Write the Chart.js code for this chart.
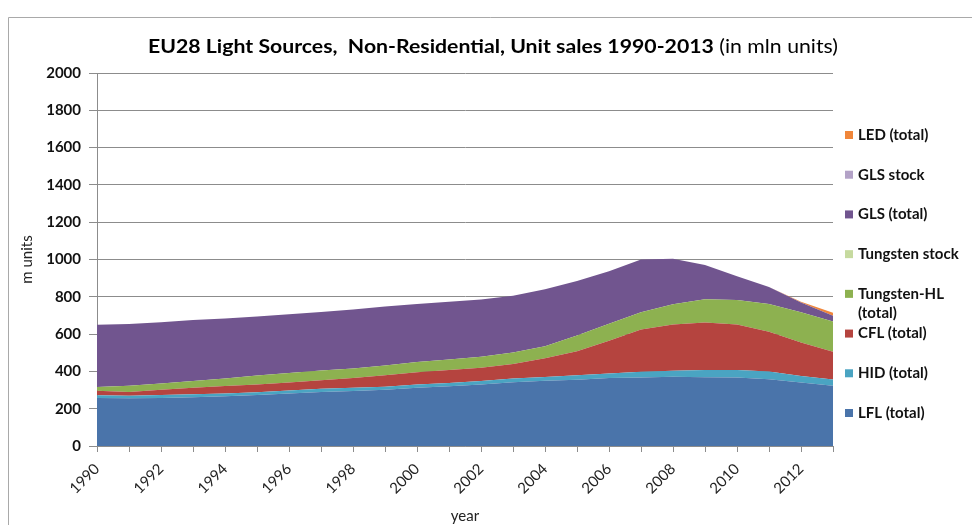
<!DOCTYPE html>
<html>
<head>
<meta charset="utf-8">
<title>EU28 Light Sources, Non-Residential</title>
<script src="https://cdn.jsdelivr.net/npm/chart.js@4.4.1/dist/chart.umd.min.js"></script>
<style>
  body { margin: 0; background: #fff; }
  #box { width: 972px; height: 525px; }
</style>
</head>
<body>
<div id="box"><canvas id="salesChart" width="972" height="525"></canvas></div>
<script>
const years = ['1990', '1991', '1992', '1993', '1994', '1995', '1996', '1997', '1998', '1999', '2000', '2001',
               '2002', '2003', '2004', '2005', '2006', '2007', '2008', '2009', '2010', '2011', '2012', '2013'];

// unit sales per year, mln units
const lfl        = [258, 256, 258, 262, 267, 274, 282, 290, 295, 302, 312, 320, 330, 342, 350, 355, 364, 367, 371, 369, 367, 358, 340, 323];
const hid        = [14, 14, 16, 16, 15, 14, 15, 17, 17, 16, 18, 18, 18, 20, 20, 25, 25, 31, 32, 38, 40, 42, 36, 33];
const cfl        = [24, 20, 28, 34, 40, 42, 43, 45, 53, 62, 65, 70, 72, 78, 100, 128, 176, 227, 249, 255, 245, 212, 179, 149];
const tungstenHL = [21, 33, 33, 36, 40, 48, 52, 53, 50, 52, 55, 56, 58, 62, 65, 84, 90, 92, 108, 125, 131, 150, 162, 163];
const tungstenStock = [0, 0, 0, 0, 0, 0, 0, 0, 0, 0, 0, 0, 0, 0, 0, 0, 0, 0, 0, 0, 0, 0, 0, 0];
const gls        = [333, 331, 329, 327, 322, 317, 314, 313, 317, 316, 312, 310, 308, 304, 305, 293, 282, 283, 244, 183, 127, 90, 53, 31];
const glsStock   = [0, 0, 0, 0, 0, 0, 0, 0, 0, 0, 0, 0, 0, 0, 0, 0, 0, 0, 0, 0, 0, 0, 0, 0];
const led        = [0, 0, 0, 0, 0, 0, 0, 0, 0, 0, 0, 0, 0, 0, 0, 0, 0, 0, 0, 0, 0, 0, 4, 15];

const yTicks = [0, 200, 400, 600, 800, 1000, 1200, 1400, 1600, 1800, 2000];

const FONT = 'Lato, "Open Sans", sans-serif';

const series = [
    { label: 'LFL (total)',         data: lfl,           color: '#4a74aa' },
    { label: 'HID (total)',         data: hid,           color: '#4aa4c2' },
    { label: 'CFL (total)',         data: cfl,           color: '#b5443f' },
    { label: 'Tungsten-HL (total)', data: tungstenHL,    color: '#8db150' },
    { label: 'Tungsten stock',      data: tungstenStock, color: '#c6da9f' },
    { label: 'GLS (total)',         data: gls,           color: '#71558f' },
    { label: 'GLS stock',           data: glsStock,      color: '#b3a2c7' },
    { label: 'LED (total)',         data: led,           color: '#f0863a' }
];

// frame + two-weight title
const framePlugin = {
    id: 'frame',
    beforeDraw(chart) {
        const ctx = chart.ctx;
        ctx.save();
        ctx.fillStyle = '#fff';
        ctx.fillRect(0, 0, chart.width, chart.height);
        ctx.strokeStyle = '#a9a9a9';
        ctx.lineWidth = 1;
        ctx.beginPath();
        ctx.moveTo(8.5, chart.height + 2);
        ctx.lineTo(8.5, 17.5);
        ctx.lineTo(chart.width + 2, 17.5);
        ctx.stroke();
        ctx.restore();
    },
    afterDraw(chart) {
        const ctx = chart.ctx;
        const boldPart = 'EU28 Light Sources,  Non-Residential, Unit sales 1990-2013';
        const plainPart = ' (in mln units)';
        ctx.save();
        ctx.font = 'bold 19px ' + FONT;
        const wb = ctx.measureText(boldPart).width;
        ctx.font = '19px ' + FONT;
        const wp = ctx.measureText(plainPart).width;
        const sx = 690 / (wb + wp);
        ctx.translate(148, 47);
        ctx.scale(sx, 1);
        ctx.fillStyle = '#000';
        ctx.textBaseline = 'middle';
        ctx.font = 'bold 19px ' + FONT;
        ctx.fillText(boldPart, 0, 0);
        ctx.font = '19px ' + FONT;
        ctx.fillText(plainPart, wb, 0);
        ctx.restore();
    }
};

// legend on the right, top entry = last dataset
const legendPlugin = {
    id: 'sideLegend',
    afterDraw(chart) {
        const ctx = chart.ctx;
        const items = chart.data.datasets.slice().reverse();
        const top = 135, bottom = 413;
        const step = (bottom - top) / (items.length - 1);
        ctx.save();
        ctx.font = 'bold 15px ' + FONT;
        ctx.textBaseline = 'middle';
        items.forEach((ds, i) => {
            const y = top + i * step;
            ctx.fillStyle = ds.backgroundColor;
            ctx.fillRect(845, y - 4, 8, 8);
            ctx.fillStyle = '#111';
            // wrap long labels
            const words = ds.label.split(' ');
            const lines = [];
            let line = '';
            words.forEach(w => {
                const test = line ? line + ' ' + w : w;
                if (ctx.measureText(test).width > 112 && line) {
                    lines.push(line);
                    line = w;
                } else {
                    line = test;
                }
            });
            lines.push(line);
            lines.forEach((l, k) => ctx.fillText(l, 858, y + k * 19));
        });
        ctx.restore();
    }
};

const ctx = document.getElementById('salesChart').getContext('2d');
new Chart(ctx, {
    type: 'line',
    data: {
        labels: years,
        datasets: series.map((s, i) => ({
            label: s.label,
            data: s.data,
            backgroundColor: s.color,
            borderColor: s.color,
            borderWidth: 0,
            pointRadius: 0,
            tension: 0,
            fill: i === 0 ? 'origin' : '-1'
        }))
    },
    options: {
        responsive: false,
        animation: false,
        devicePixelRatio: 1,
        layout: { padding: { left: 0, top: 73, right: 139, bottom: 0 } },
        plugins: {
            legend: { display: false },
            title: { display: false },
            tooltip: { enabled: false }
        },
        scales: {
            x: {
                offset: false,
                grid: { drawOnChartArea: false, color: '#8c8c8c', tickLength: 6 },
                border: { color: '#8c8c8c' },
                ticks: {
                    autoSkip: false,
                    minRotation: 45,
                    maxRotation: 45,
                    padding: 8,
                    color: '#222',
                    font: { family: FONT, size: 15 },
                    callback: function (value, index) {
                        return index % 2 === 0 ? this.getLabelForValue(value) : '';
                    }
                },
                title: {
                    display: true,
                    text: 'year',
                    color: '#222',
                    font: { family: FONT, size: 15 },
                    padding: { top: 0, bottom: 0 }
                },
                afterFit(scale) { scale.height = 525 - 446; }
            },
            y: {
                stacked: true,
                min: 0,
                max: 2000,
                grid: { color: '#8c8c8c', tickLength: 8 },
                border: { color: '#8c8c8c' },
                afterBuildTicks(scale) { scale.ticks = yTicks.map(v => ({ value: v })); },
                ticks: {
                    padding: 8,
                    color: '#111',
                    font: { family: FONT, size: 15, weight: 'bold' },
                    callback: v => String(v)
                },
                title: {
                    display: true,
                    text: 'm units',
                    color: '#222',
                    font: { family: FONT, size: 15 },
                    padding: { top: 18, bottom: 0 }
                },
                afterFit(scale) { scale.width = 97; }
            }
        }
    },
    plugins: [framePlugin, legendPlugin]
});
</script>
</body>
</html>
